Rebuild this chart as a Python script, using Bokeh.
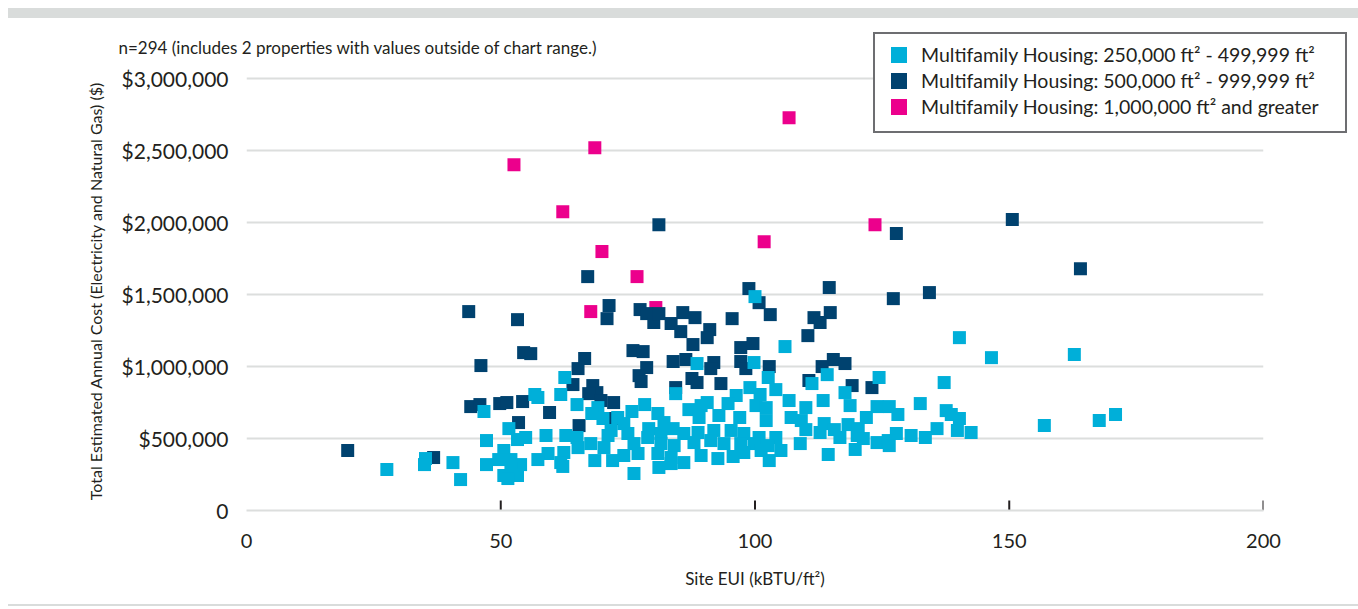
from bokeh.plotting import figure
from bokeh.models import Range1d, FixedTicker, CustomJSTickFormatter, Div
from bokeh.layouts import column
from bokeh.embed import file_html
from bokeh.resources import INLINE

FONT = "Lato"

series_names = [
    "Multifamily Housing: 250,000 ft\u00b2 - 499,999 ft\u00b2",
    "Multifamily Housing: 500,000 ft\u00b2 - 999,999 ft\u00b2",
    "Multifamily Housing: 1,000,000 ft\u00b2 and greater",
]

# Multifamily Housing: 250,000 - 499,999 ft2
cyan_eui = [62.6, 61.8, 56.7, 57.3, 65.0, 46.7, 51.6, 58.9, 62.8, 65.0, 47.2, 53.3, 54.9, 65.2,
            50.6, 62.4, 59.3, 57.3, 49.6, 52.0, 53.9, 47.2, 40.6, 35.2, 35.0, 61.8, 62.2, 52.0,
            50.6, 53.3, 51.4, 42.1, 27.6, 100.0, 105.9, 88.6, 99.8, 102.6, 84.4, 78.3, 99.0,
            104.1, 101.0, 96.3, 106.7, 69.1, 67.9, 75.8, 80.9, 87.0, 89.4, 90.6, 94.7, 100.2,
            102.2, 102.2, 97.0, 92.9, 89.0, 73.0, 70.1, 74.2, 82.1, 83.9, 79.1, 71.7, 71.1, 75.0,
            78.9, 81.5, 86.0, 88.8, 91.9, 95.3, 97.8, 100.8, 104.1, 110.0, 67.7, 70.3, 76.2,
            81.5, 84.1, 88.0, 91.3, 93.9, 97.2, 99.8, 102.6, 74.2, 77.0, 80.9, 83.5, 86.0, 89.4,
            92.7, 95.7, 97.8, 101.2, 105.1, 108.9, 68.5, 72.0, 81.1, 83.5, 102.8, 76.2, 110.0,
            140.2, 146.5, 114.2, 124.4, 137.2, 111.2, 117.7, 113.4, 118.7, 124.0, 126.4, 132.5,
            128.1, 137.6, 138.6, 140.2, 121.9, 107.1, 109.1, 113.6, 118.3, 120.3, 112.8, 115.6,
            116.7, 120.1, 121.3, 127.8, 135.8, 139.8, 142.5, 130.7, 133.5, 124.0, 126.2, 126.4,
            119.7, 114.4, 162.8, 156.9, 167.7, 170.9]
cyan_cost = [924000, 806000, 806000, 785000, 736000, 688000, 569000, 521000, 521000, 507000,
             486000, 493000, 507000, 437000, 417000, 403000, 396000, 354000, 354000, 354000,
             319000, 319000, 333000, 361000, 319000, 333000, 306000, 292000, 243000, 243000,
             222000, 215000, 285000, 1486000, 1139000, 1021000, 1028000, 924000, 812000, 736000,
             854000, 840000, 806000, 799000, 764000, 715000, 674000, 688000, 674000, 701000,
             729000, 750000, 743000, 729000, 715000, 625000, 646000, 660000, 646000, 646000,
             639000, 604000, 611000, 569000, 569000, 556000, 521000, 535000, 507000, 535000,
             535000, 542000, 556000, 556000, 535000, 507000, 507000, 562000, 465000, 437000,
             465000, 465000, 451000, 472000, 486000, 465000, 465000, 465000, 451000, 382000,
             396000, 396000, 368000, 333000, 382000, 361000, 375000, 403000, 417000, 417000,
             465000, 347000, 347000, 299000, 326000, 347000, 257000, 715000,
             1201000, 1062000, 944000, 924000, 889000, 882000, 819000, 764000, 729000, 722000,
             722000, 743000, 667000, 694000, 667000, 639000, 646000, 646000, 625000, 604000,
             597000, 569000, 542000, 562000, 507000, 521000, 500000, 535000, 569000, 556000,
             542000, 521000, 507000, 472000, 486000, 451000, 424000, 389000, 1083000, 590000,
             625000, 667000]

# Multifamily Housing: 500,000 - 999,999 ft2
dark_eui = [150.6, 127.8, 134.3, 127.2, 164.0, 81.1, 67.1, 43.7, 98.8, 114.6, 53.3, 54.5, 55.9,
            46.1, 65.2, 64.2, 44.1, 45.9, 49.8, 51.2, 54.3, 59.6, 53.5, 65.4, 19.9, 36.8, 100.8,
            71.3, 70.9, 77.4, 78.7, 80.1, 81.1, 83.5, 85.8, 88.2, 85.4, 91.1, 90.6, 95.5, 103.0,
            110.4, 87.8, 76.0, 78.0, 97.2, 99.6, 66.5, 78.7, 83.9, 86.4, 91.9, 91.3, 97.2, 98.2,
            102.8, 68.1, 68.9, 67.3, 69.7, 72.2, 77.2, 77.6, 87.6, 88.6, 93.3, 84.4, 72.2, 110.6,
            111.6, 114.8, 112.8, 115.4, 113.2, 117.7, 119.1, 123.0]
dark_cost = [2021000, 1924000, 1514000, 1472000, 1680000, 1986000, 1625000, 1382000, 1542000,
             1549000, 1326000, 1097000, 1090000, 1007000, 986000, 875000, 722000, 736000, 743000,
             750000, 757000, 681000, 611000, 590000, 417000, 368000, 1444000, 1424000, 1333000,
             1396000, 1368000, 1306000, 1368000, 1299000, 1375000, 1340000, 1243000, 1257000,
             1201000, 1333000, 1361000, 1215000, 1153000, 1111000, 1104000, 1132000, 1160000,
             1056000, 993000, 1035000, 1049000, 1028000, 986000, 1035000, 986000, 1000000,
             868000, 819000, 812000, 764000, 750000, 937000, 896000, 917000, 889000, 882000,
             854000, 639000, 903000, 1340000, 1375000, 1306000, 1049000, 1000000, 1021000,
             868000, 854000]

# Multifamily Housing: 1,000,000 ft2 and greater
pink_eui = [52.6, 68.5, 62.2, 69.9, 76.8, 67.7, 80.5, 106.7, 101.8, 123.6]
pink_cost = [2403000, 2521000, 2076000, 1799000, 1625000, 1382000, 1410000, 2729000, 1868000,
             1986000]

x_ticks = [0, 50, 100, 150, 200]
y_ticks = [0, 500000, 1000000, 1500000, 2000000, 2500000, 3000000]

COL_CYAN = "#00afd9"
COL_DARK = "#00426f"
COL_PINK = "#ec008c"
series_colors = [COL_CYAN, COL_DARK, COL_PINK]
TXT = "#231f20"
GRID = "#dcdedd"
BAR = "#d9dcdb"

W, H = 1350, 586
BL, BR, BT, BB = 246, 87, 53, 94
frame_h = H - BT - BB
y_end = 3050000

p = figure(width=W, height=H, output_backend="svg", toolbar_location=None,
           x_range=Range1d(0, 200), y_range=Range1d(0, y_end),
           min_border_left=BL, min_border_right=BR, min_border_top=BT, min_border_bottom=BB)
p.margin = 0
p.outline_line_color = None
p.background_fill_color = "white"
p.border_fill_color = "white"

p.title.text = "n=294 (includes 2 properties with values outside of chart range.)"
p.title.align = "left"
p.title.offset = -128
p.title.text_font = FONT
p.title.text_font_size = "17px"
p.title.text_font_style = "normal"
p.title.text_color = TXT
p.title.standoff = 28

p.xaxis.ticker = FixedTicker(ticks=x_ticks)
p.yaxis.ticker = FixedTicker(ticks=y_ticks)
p.yaxis.formatter = CustomJSTickFormatter(
    code='return tick == 0 ? "0" : "$" + Math.round(tick).toLocaleString("en-US");')
for ax in (p.xaxis[0], p.yaxis[0]):
    ax.major_tick_line_color = None
    ax.minor_tick_line_color = None
    ax.major_label_text_font = FONT
    ax.major_label_text_color = TXT
    ax.axis_label_text_font = FONT
    ax.axis_label_text_font_style = "normal"
    ax.axis_label_text_color = TXT
p.yaxis.axis_line_color = None
p.yaxis.major_label_text_font_size = "21px"
p.yaxis.major_label_standoff = 12
p.yaxis.axis_label = "Total Estimated Annual Cost (Electricity and Natural Gas) ($)"
p.yaxis.axis_label_text_font_size = "16px"
p.yaxis.axis_label_standoff = 14
p.xaxis.axis_line_color = GRID
p.xaxis.axis_line_width = 2
p.xaxis.major_label_text_font_size = "20px"
p.xaxis.major_label_standoff = 17
p.xaxis.axis_label = "Site EUI (kBTU/ft\u00b2)"
p.xaxis.axis_label_text_font_size = "17px"
p.xaxis.axis_label_standoff = 17

p.xgrid.grid_line_color = None
p.ygrid.grid_line_color = GRID
p.ygrid.grid_line_width = 2

# small tick marks on the x axis (not at 0)
tick_h = 10 * y_end / frame_h
tk = x_ticks[1:]
p.segment(x0=tk, y0=[0] * len(tk), x1=tk, y1=[tick_h] * len(tk), line_color=TXT, line_width=2)

p.scatter(pink_eui, pink_cost, marker="square", size=13, fill_color=COL_PINK, line_color=None)
p.scatter(dark_eui, dark_cost, marker="square", size=13, fill_color=COL_DARK, line_color=None)
p.scatter(cyan_eui, cyan_cost, marker="square", size=13, fill_color=COL_CYAN, line_color=None)

# legend box, overlapping the top-right corner of the chart
LW, LH = 474, 101
rows = "".join(
    '<div style="display:flex;align-items:center;height:26px;white-space:nowrap;">'
    f'<span style="display:inline-block;flex:none;width:16px;height:16px;background:{c};'
    f'margin-right:14px;"></span>{n}</div>'
    for n, c in zip(series_names, series_colors))
legend_html = (f'<div style="box-sizing:border-box;width:{LW}px;height:{LH}px;'
               'border:2px solid #6d6e71;background:#ffffff;padding:8px 0 0 16px;'
               f'font-family:{FONT};font-size:19.5px;line-height:26px;color:{TXT};">'
               f'{rows}</div>')
legend_div = Div(text=legend_html, width=LW, height=LH, margin=(12 - H, 0, H - 113, 873))

top_bar = Div(width=W, height=10, margin=(8, 0, 0, 8), styles={"background-color": BAR})
bottom_bar = Div(width=W, height=2, margin=(0, 0, 0, 8), styles={"background-color": BAR})
layout = column(top_bar, p, bottom_bar, legend_div, spacing=0)

open("out.html", "w").write(file_html(layout, INLINE))
